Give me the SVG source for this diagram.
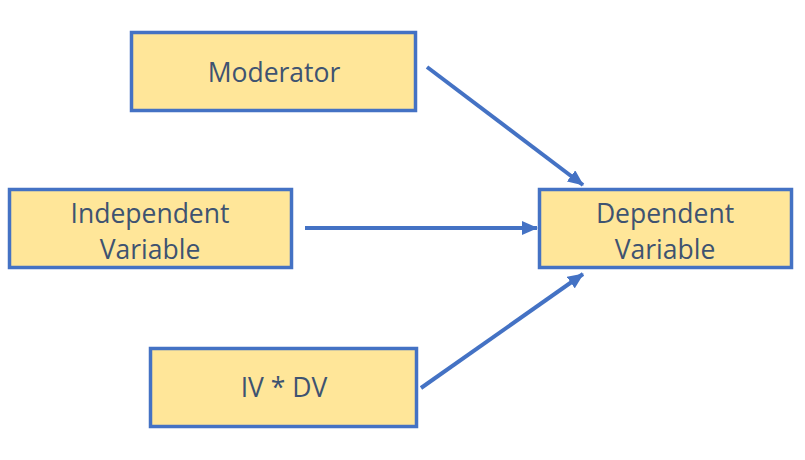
<svg xmlns="http://www.w3.org/2000/svg" width="805" height="460" viewBox="0 0 805 460">
<style>
.box{fill:#FFE699;stroke:#4472C4;stroke-width:3.5}
.lbl{font-family:"Open Sans","Liberation Sans",sans-serif;font-size:26.5px;fill:#3E5371;text-anchor:middle}
.con{stroke:#4472C4;stroke-width:4;fill:none;marker-end:url(#ah)}
</style>
<defs>
<marker id="ah" markerUnits="userSpaceOnUse" markerWidth="16" markerHeight="14" refX="15" refY="7" orient="auto">
<path d="M0,0 L16,7 L0,14 Z" fill="#4472C4"/>
</marker>
</defs>
<rect width="805" height="460" fill="#fff"/>
<g id="moderator"><rect class="box" x="131.5" y="32.5" width="284" height="78"/><text class="lbl" x="274" y="82">Moderator</text></g>
<g id="independent"><rect class="box" x="9.5" y="189.5" width="282" height="78"/><text class="lbl" x="150" y="223">Independent</text><text class="lbl" x="150" y="259">Variable</text></g>
<g id="dependent"><rect class="box" x="539.5" y="189.5" width="252" height="78"/><text class="lbl" x="665" y="223">Dependent</text><text class="lbl" x="665" y="259">Variable</text></g>
<g id="ivdv"><rect class="box" x="150.5" y="348.5" width="266" height="78"/><text class="lbl" x="284" y="397">IV * DV</text></g>
<g id="connectors">
<line class="con" x1="427" y1="67" x2="583" y2="185"/>
<line class="con" x1="305" y1="228" x2="537" y2="228"/>
<line class="con" x1="421" y1="388" x2="583" y2="274"/>
</g>
</svg>
